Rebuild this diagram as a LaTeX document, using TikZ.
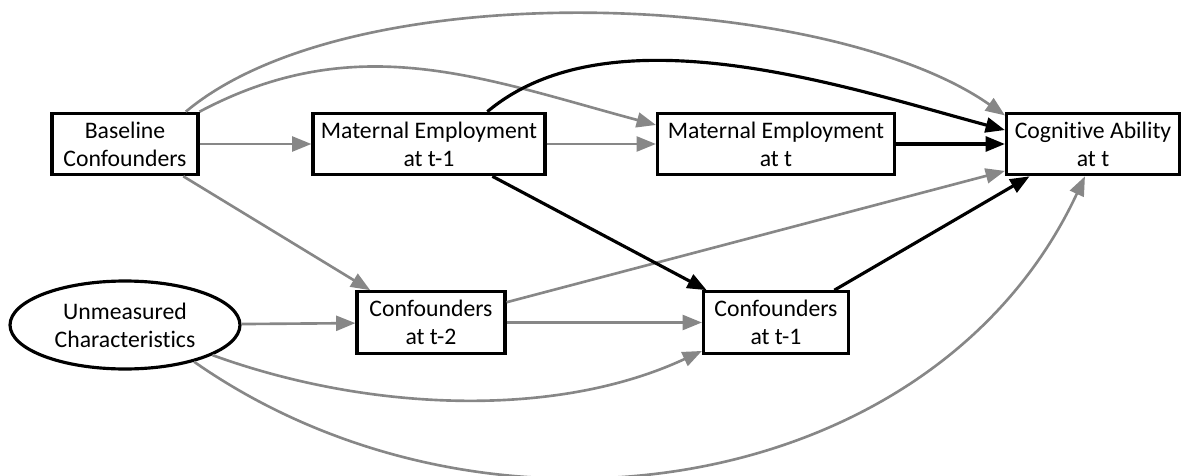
\documentclass[tikz,border=0pt]{standalone}
\usepackage{fontspec}
\setmainfont[Ligatures=NoCommon]{Carlito}
\usetikzlibrary{arrows.meta,shapes.geometric}
\begin{document}
\begin{tikzpicture}[x=0.02cm,y=0.02cm,
  box/.style={draw,line width=1.8pt,inner sep=0pt,align=center,font=\fontsize{13.5}{16}\selectfont,minimum height=1.23cm},
  oval/.style={draw,ellipse,line width=1.8pt,inner sep=0pt,align=center,font=\fontsize{13.5}{16}\selectfont,minimum width=4.6cm,minimum height=1.76cm},
  grey/.style={draw=black!47,line width=1.5pt,-{Triangle[length=11pt,width=8.5pt]}},
  dark/.style={draw=black,line width=1.8pt,-{Triangle[length=11pt,width=8.5pt]}}]
\useasboundingbox (0,0) rectangle (1189,-476);
\node[box,minimum width=2.92cm] (base) at (125,-144) {Baseline\\Confounders};
\node[box,minimum width=4.64cm] (met1) at (429,-144) {Maternal Employment\\at t-1};
\node[box,minimum width=4.74cm] (met) at (776,-144) {Maternal Employment\\at t};
\node[box,minimum width=3.46cm] (cog) at (1093,-144) {Cognitive Ability\\at t};
\node[oval] (unm) at (125,-325) {Unmeasured\\Characteristics};
\node[box,minimum width=2.96cm] (c2) at (431,-322.5) {Confounders\\at t-2};
\node[box,minimum width=2.9cm] (c1) at (776,-322.5) {Confounders\\at t-1};
\draw[grey] (base) -- (met1);
\draw[grey] (met1) -- (met);
\draw[grey] (base.north east) to[out=28,in=165] (met.171);
\draw[grey] (base.28) to[out=40,in=145,looseness=0.68] (cog.162);
\draw[grey] (base.-29) -- (c2.152);
\draw[grey] (unm) -- (c2);
\draw[grey] (c2) -- (c1);
\draw[grey] (c2.15) -- (cog.197);
\draw[grey] (unm.-19) to[out=-20,in=205,looseness=0.85] (c1.201);
\draw[grey] (unm.-28) to[out=-35,in=245] (cog.256);
\draw[dark] (met1.29) to[out=40,in=165,looseness=0.8] (cog.171);
\draw[dark] (met) -- (cog);
\draw[dark] (met1.-27) -- (c1.155);
\draw[dark] (c1.29) -- (cog.207);
\end{tikzpicture}
\end{document}
